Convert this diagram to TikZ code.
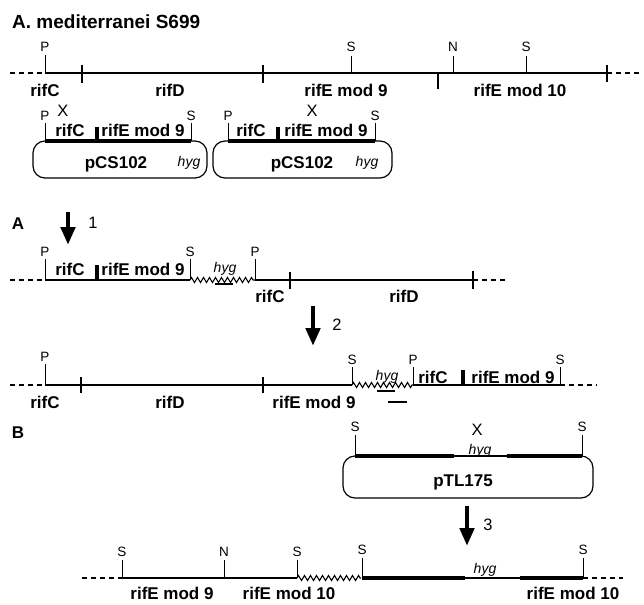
\documentclass[tikz,border=0pt]{standalone}
\usepackage{fontspec}
\setmainfont{Liberation Sans}
\usetikzlibrary{arrows.meta,decorations.pathmorphing}
\begin{document}
\begin{tikzpicture}[x=1pt,y=-1pt,
  title/.style={font=\fontsize{19}{19}\selectfont\bfseries, inner sep=0pt, text height=13.7pt, text depth=0pt},
  lbl/.style={font=\fontsize{17}{17}\selectfont\bfseries, inner sep=0pt, text height=12.2pt, text depth=0pt},
  site/.style={font=\fontsize{13.5}{13.5}\selectfont, inner sep=0pt, text height=9.7pt, text depth=0pt},
  xlbl/.style={font=\fontsize{16.5}{16.5}\selectfont, inner sep=0pt, text height=11.9pt, text depth=0pt},
  hyglbl/.style={font=\fontsize{14}{14}\selectfont\itshape, inner sep=0pt, text height=10pt, text depth=0pt},
  num/.style={font=\fontsize{16.5}{16.5}\selectfont, inner sep=0pt, text height=11.9pt, text depth=0pt},
  chrom/.style={line width=1.6pt},
  thin/.style={line width=1.2pt},
  thick/.style={line width=3.5pt},
  tickmark/.style={line width=2pt},
  sitetick/.style={line width=1pt},
  bar/.style={line width=3.5pt},
  dashline/.style={line width=1.3pt, dash pattern=on 5pt off 4pt},
  zz/.style={line width=1.1pt, decorate, decoration={zigzag, segment length=6pt, amplitude=2.5pt}},
  plasmid/.style={line width=1.2pt, rounded corners=12pt},
  bigarrow/.style={line width=4.5pt, -{Triangle[width=14pt,length=18pt]}}
]
\useasboundingbox (0,0) rectangle (644,604);

% ---------- title ----------
\node[title, anchor=west] (ttl) at (12,22) {A. mediterranei S699};

% ---------- row 1 ----------
\draw[dashline] (10,73) -- (45,73);
\draw[chrom] (45,73) -- (607,73);
\draw[line width=2.5pt] (565,73) -- (607,73);
\draw[dashline] (607,73) -- (642,73);
\node[site] (r1p) at (45,47) {P};
\draw[sitetick] (45,55) -- (45,73);
\draw[tickmark] (82,65) -- (82,83);
\draw[tickmark] (263,65) -- (263,83);
\node[site] (r1s1) at (351,47) {S};
\draw[sitetick] (351,56) -- (351,73);
\draw[tickmark] (438,73) -- (438,89);
\node[site] (r1n) at (453,47) {N};
\draw[sitetick] (453,56) -- (453,73);
\node[site] (r1s2) at (526,47) {S};
\draw[sitetick] (526,56) -- (526,73);
\draw[tickmark] (607,65) -- (607,82);
\node[lbl] (r1a) at (45,90) {rifC};
\node[lbl] (r1b) at (170,90) {rifD};
\node[lbl] (r1c) at (346,90) {rifE mod 9};
\node[lbl] (r1d) at (520,90) {rifE mod 10};

% ---------- plasmid pCS102 (1) ----------
\draw[plasmid] (33,141) rectangle (207,178);
\draw[thick] (45,141) -- (191,141);
\draw[bar] (97,127) -- (97,141);
\node[site] (b1p) at (45,116) {P};
\draw[sitetick] (45,123) -- (45,141);
\node[site] (b1s) at (191,116) {S};
\draw[sitetick] (191,123) -- (191,141);
\node[xlbl] (b1x) at (63,111) {X};
\node[lbl] (b1a) at (70,130) {rifC};
\node[lbl] (b1b) at (143,130) {rifE mod 9};
\node[lbl] (b1n) at (116,162) {pCS102};
\node[hyglbl] (b1h) at (189,162) {hyg};

% ---------- plasmid pCS102 (2) ----------
\draw[plasmid] (213,141) rectangle (392,178);
\draw[thick] (228,141) -- (375,141);
\draw[bar] (278,127) -- (278,141);
\node[site] (b2p) at (228,116) {P};
\draw[sitetick] (228,123) -- (228,141);
\node[site] (b2s) at (375,116) {S};
\draw[sitetick] (375,123) -- (375,141);
\node[xlbl] (b2x) at (312,111) {X};
\node[lbl] (b2a) at (251,130) {rifC};
\node[lbl] (b2b) at (326,130) {rifE mod 9};
\node[lbl] (b2n) at (302,162) {pCS102};
\node[hyglbl] (b2h) at (367,162) {hyg};

% ---------- step 1 ----------
\node[lbl] (secA) at (18,223) {A};
\coordinate (a1s) at (68,212);
\coordinate (a1e) at (68,245);
\draw[bigarrow] (a1s) -- (a1e);
\node[num] (n1) at (93,223) {1};

% ---------- row 2 ----------
\draw[dashline] (10,280) -- (45,280);
\draw[line width=2.5pt] (45,280) -- (97,280);
\draw[line width=1.8pt] (97,280) -- (190,280);
\draw[bar] (97,265) -- (97,280);
\node[site] (r2p1) at (45,252) {P};
\draw[sitetick] (45,259) -- (45,280);
\node[site] (r2s) at (190,252) {S};
\draw[sitetick] (190,259) -- (190,280);
\draw[zz] (190,280) -- (255,280);
\node[hyglbl] (r2h) at (225,267) {hyg};
\draw[line width=2pt] (215,284) -- (233,284);
\node[site] (r2p2) at (255,252) {P};
\draw[sitetick] (255,259) -- (255,280);
\draw[chrom] (255,280) -- (473,280);
\draw[tickmark] (290,272) -- (290,289);
\draw[tickmark] (473,271) -- (473,289);
\draw[dashline] (473,280) -- (508,280);
\node[lbl] (r2a) at (70,269) {rifC};
\node[lbl] (r2b) at (143,269) {rifE mod 9};
\node[lbl] (r2c) at (270,296) {rifC};
\node[lbl] (r2d) at (404,296) {rifD};

% ---------- step 2 ----------
\coordinate (a2s) at (313,306);
\coordinate (a2e) at (313,346);
\draw[bigarrow] (a2s) -- (a2e);
\node[num] (n2) at (337,325) {2};

% ---------- row 3 ----------
\draw[dashline] (10,385) -- (45,385);
\draw[chrom] (45,385) -- (352,385);
\node[site] (r3p1) at (45,357) {P};
\draw[sitetick] (45,364) -- (45,385);
\draw[tickmark] (81,377) -- (81,393);
\draw[tickmark] (263,377) -- (263,393);
\node[site] (r3s1) at (352,360) {S};
\draw[sitetick] (352,367) -- (352,385);
\draw[zz] (352,385) -- (413,385);
\node[hyglbl] (r3h) at (387,375) {hyg};
\draw[line width=2pt] (377,391) -- (395,391);
\draw[line width=1.5pt] (388,402) -- (407,402);
\node[site] (r3p2) at (413,360) {P};
\draw[sitetick] (413,367) -- (413,385);
\draw[line width=2.5pt] (413,385) -- (427,385);
\draw[line width=1.5pt] (427,385) -- (560,385);
\draw[bar] (463,370) -- (463,385);
\node[site] (r3s2) at (560,360) {S};
\draw[sitetick] (560,367) -- (560,385);
\draw[dashline] (560,385) -- (597,385);
\node[lbl] (r3a) at (433,377) {rifC};
\node[lbl] (r3b) at (513,377) {rifE mod 9};
\node[lbl] (r3c) at (45,402) {rifC};
\node[lbl] (r3d) at (170,402) {rifD};
\node[lbl] (r3e) at (314,402) {rifE mod 9};

% ---------- section B : pTL175 ----------
\node[lbl] (secB) at (18,432) {B};
\draw[plasmid] (343,456) rectangle (593,498);
\draw[thick] (355,456) -- (454,456);
\draw[thin] (454,456) -- (507,456);
\draw[thick] (507,456) -- (582,456);
\node[site] (bps1) at (355,427) {S};
\draw[sitetick] (355,435) -- (355,456);
\node[site] (bps2) at (582,427) {S};
\draw[sitetick] (582,435) -- (582,456);
\node[xlbl] (bpx) at (477,430) {X};
\node[hyglbl] (bph) at (480,449) {hyg};
\node[lbl] (bpn) at (463,480) {pTL175};

% ---------- step 3 ----------
\coordinate (a3s) at (467,506);
\coordinate (a3e) at (467,546);
\draw[bigarrow] (a3s) -- (a3e);
\node[num] (n3) at (488,525) {3};

% ---------- row 4 ----------
\draw[dashline] (82,578) -- (122,578);
\draw[line width=1.8pt] (122,578) -- (297,578);
\node[site] (r4s1) at (122,552) {S};
\draw[sitetick] (122,560) -- (122,578);
\node[site] (r4n) at (224,552) {N};
\draw[sitetick] (224,560) -- (224,578);
\node[site] (r4s2) at (297,552) {S};
\draw[sitetick] (297,560) -- (297,578);
\draw[zz] (297,578) -- (361,578);
\node[site] (r4s3) at (362,550) {S};
\draw[sitetick] (362,558) -- (362,578);
\draw[thick] (362,578) -- (465,578);
\draw[thin] (465,578) -- (520,578);
\draw[thick] (520,578) -- (583,578);
\node[site] (r4s4) at (583,550) {S};
\draw[sitetick] (583,558) -- (583,578);
\draw[dashline] (583,578) -- (623,578);
\node[hyglbl] (r4h) at (485,568) {hyg};
\node[lbl] (r4a) at (172,593) {rifE mod 9};
\node[lbl] (r4b) at (289,593) {rifE mod 10};
\node[lbl] (r4c) at (573,593) {rifE mod 10};
\end{tikzpicture}
\end{document}
